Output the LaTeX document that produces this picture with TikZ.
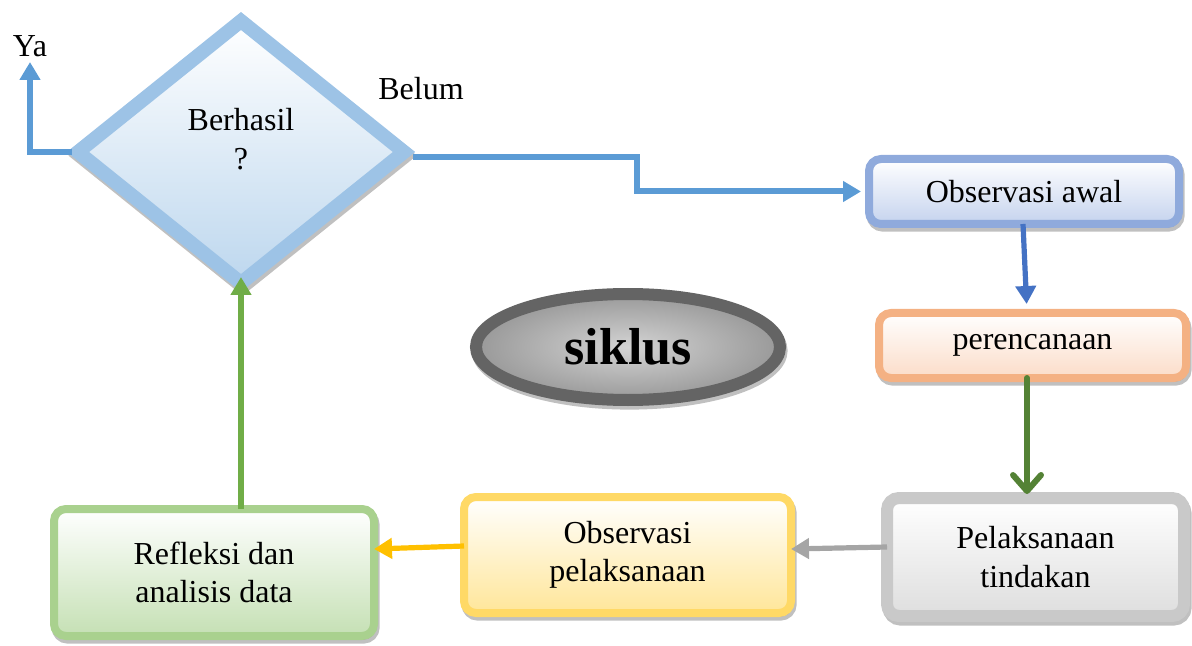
\documentclass[tikz,border=0pt]{standalone}
\usepackage{fontspec}
\setmainfont{Liberation Serif}
\usetikzlibrary{shapes.geometric,arrows.meta,shadows,calc}
\definecolor{dmB}{HTML}{9DC3E6}
\definecolor{dmF}{HTML}{BDD7EE}
\definecolor{blA}{HTML}{5B9BD5}
\definecolor{oaB}{HTML}{8FAADC}
\definecolor{oaF}{HTML}{C5D3EE}
\definecolor{oaA}{HTML}{4472C4}
\definecolor{peB}{HTML}{F4B183}
\definecolor{peF}{HTML}{FBDCC8}
\definecolor{grA}{HTML}{548235}
\definecolor{plB}{HTML}{C9C9C9}
\definecolor{plF}{HTML}{DEDEDE}
\definecolor{gyA}{HTML}{A5A5A5}
\definecolor{opB}{HTML}{FFD966}
\definecolor{opF}{HTML}{FFE699}
\definecolor{yeA}{HTML}{FFC000}
\definecolor{rfB}{HTML}{A9D18E}
\definecolor{rfF}{HTML}{C5E0B4}
\definecolor{lgA}{HTML}{70AD47}
\definecolor{skB}{HTML}{646464}
\tikzset{
  shd/.style={drop shadow={shadow xshift=0.8pt, shadow yshift=-1.8pt, opacity=0.45, fill=black!55, draw=black!55}},
  box/.style={rectangle, rounded corners=6pt, align=center, inner sep=0pt, outer sep=0pt, line width=4pt, top color=white, shd},
  conn/.style={line width=2.6pt},
  tri/.style={-{Triangle[width=10pt,length=9pt]}},
  barb/.style={-{Straight Barb[width=14pt,length=8pt,round]}, line cap=round},
  lbl/.style={inner sep=0pt, align=center}
}
\begin{document}
\begin{tikzpicture}[x=0.5pt,y=-0.5pt, font=\fontsize{16}{19.2}\selectfont]
\useasboundingbox (0,0) rectangle (1192,646);

% decision diamond
\node[diamond, draw=dmB, line width=7pt, top color=white, bottom color=dmF, inner sep=0pt, outer sep=0pt, minimum width=163pt, minimum height=131pt, shd] (d) at (241,152) {};
\node[lbl] (dt) at (241,139) {Berhasil\\?};
\node[lbl] (ya) at (30,46) {Ya};
\node[lbl] (belum) at (421,89) {Belum};

% boxes
\node[box, draw=oaB, bottom color=oaF, minimum width=155pt, minimum height=32.5pt] (oa) at (1024,191.5) {Observasi awal};
\node[box, draw=peB, bottom color=peF, minimum width=153.5pt, minimum height=32.5pt] (pe) at (1032.5,345.5) {perencanaan};
\node[box, draw=plB, bottom color=plF, line width=6pt, minimum width=148.5pt, minimum height=59pt] (pl) at (1035.5,557) {Pelaksanaan\\tindakan};
\node[box, draw=opB, bottom color=opF, minimum width=163.5pt, minimum height=58pt] (op) at (627.5,555) {Observasi\\pelaksanaan};
\node[box, draw=rfB, bottom color=rfF, minimum width=160pt, minimum height=63.5pt] (rf) at (214,572.5) {Refleksi dan\\analisis data};

% siklus ellipse
\node[ellipse, draw=skB, line width=6pt, inner color=black!17, outer color=black!40, inner sep=0pt, outer sep=0pt, minimum width=152pt, minimum height=53pt, shd, font=\fontsize{26}{30}\selectfont\bfseries] (sk) at (628,347) {siklus};

% connectors
\coordinate (yatip) at (30,62);
\draw[conn, blA, tri] ([xshift=-3pt]d.west) -| (yatip);
\coordinate (bend) at (637,157);
\draw[conn, line width=3pt, blA, tri, shorten >=4pt] ([xshift=4.5pt,yshift=-2.5pt]d.east) -- (bend) |- (oa.west);
\draw[conn, oaA, tri, shorten >=4.5pt] ([xshift=-0.5pt]oa.south) -- ([xshift=-2.75pt]pe.north);
\draw[conn, line width=3pt, grA, barb, shorten >=2pt] ([xshift=-2.75pt]pe.south) -- ([xshift=-4.25pt]pl.north);
\draw[conn, gyA, tri] ([yshift=5pt]pl.west) -- ([yshift=3pt]op.east);
\draw[conn, yeA, tri] ([yshift=4.5pt]op.west) -- ([yshift=11.75pt]rf.east);
\draw[conn, lgA, tri, shorten >=-3pt] ([xshift=13.5pt]rf.north) -- (d.south);
\end{tikzpicture}
\end{document}
